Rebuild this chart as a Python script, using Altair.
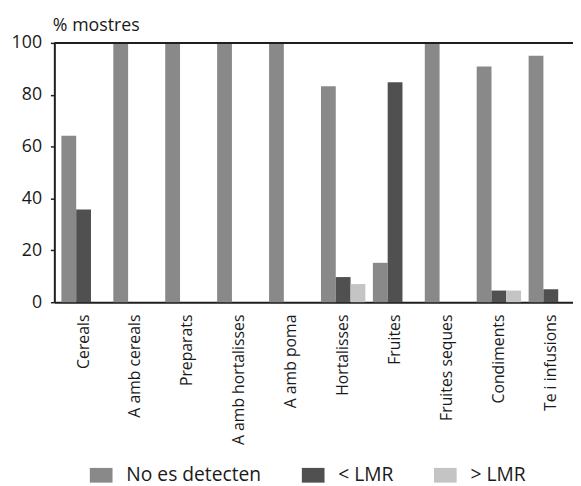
import altair as alt
import pandas as pd

categories = ["Cereals", "A amb cereals", "Preparats", "A amb hortalisses", "A amb poma",
              "Hortalisses", "Fruites", "Fruites seques", "Condiments", "Te i infusions"]
series = ["No es detecten", "< LMR", "> LMR"]
no_detect = [64.2, 100, 100, 100, 100, 83.3, 15.2, 100, 90.9, 95.0]
below_lmr = [35.8, 0, 0, 0, 0, 9.7, 84.8, 0, 4.5, 5.0]
above_lmr = [0, 0, 0, 0, 0, 7.0, 0, 0, 4.5, 0]
colors = ["#898989", "#505050", "#c4c4c4"]
y_ticks = [0, 20, 40, 60, 80, 100]

rows = []
for i, c in enumerate(categories):
    for s, vals in zip(series, [no_detect, below_lmr, above_lmr]):
        rows.append({"cat": c, "serie": s, "val": vals[i]})
df = pd.DataFrame(rows)

FONT = "Open Sans"
TXT = "#1a1a1a"
LINE = "#1e1e1e"

bars = alt.Chart(df).mark_bar().encode(
    x=alt.X("cat:N", sort=categories,
            scale=alt.Scale(paddingInner=0.145, paddingOuter=0.068, align=1),
            axis=alt.Axis(title=None, labelAngle=-90, labelFontSize=16, labelPadding=12,
                          ticks=False, domainColor=LINE, domainWidth=2, labelColor=TXT,
                          labelFont=FONT)),
    xOffset=alt.XOffset("serie:N", sort=series,
                        scale=alt.Scale(domain=series, paddingInner=0, paddingOuter=0)),
    y=alt.Y("val:Q", scale=alt.Scale(domain=[0, 100], nice=False),
            axis=alt.Axis(values=y_ticks, title="% mostres", titleAngle=0, titleX=-2, titleY=-13,
                          titleAlign="left", titleBaseline="alphabetic", titleFontWeight="normal",
                          titleFontSize=18, titleFont=FONT, titleColor=TXT,
                          labelFontSize=18, labelFont=FONT, labelColor=TXT, grid=False,
                          tickSize=4, tickWidth=1.5, tickColor=LINE, labelPadding=9,
                          domainColor=LINE, domainWidth=2)),
    color=alt.Color("serie:N", sort=series,
                    scale=alt.Scale(domain=series, range=colors),
                    legend=alt.Legend(title=None, orient="none", legendX=36, legendY=427,
                                      direction="horizontal",
                                      symbolType="M-1,-0.65H1V0.65H-1Z", symbolSize=529,
                                      symbolStrokeWidth=0, symbolOpacity=1,
                                      labelFontSize=19.5, labelFont=FONT, labelColor=TXT,
                                      labelOffset=14, columnPadding=41)),
)

top_line = alt.Chart(pd.DataFrame({"y": [100]})).mark_rule(color=LINE, strokeWidth=2).encode(
    y=alt.Y("y:Q"))

chart = alt.layer(bars, top_line).properties(
    width=526, height=263,
    autosize=alt.AutoSizeParams(type="none"),
    padding={"left": 47, "top": 32, "right": 0, "bottom": 183},
).configure_view(stroke=None).configure(font=FONT)

chart.save("out.html", embed_options={"renderer": "svg", "actions": False})
